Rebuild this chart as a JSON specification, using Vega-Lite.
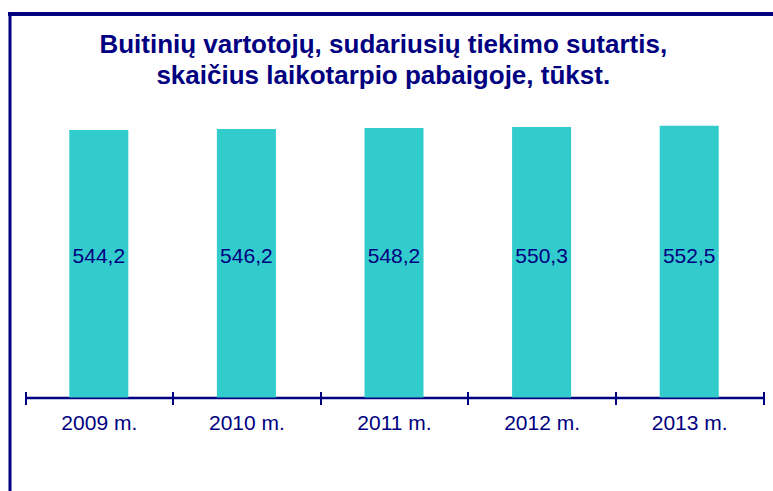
{
  "$schema": "https://vega.github.io/schema/vega-lite/v6.json",
  "width": 763.5,
  "height": 477,
  "autosize": {"type": "none"},
  "padding": {"left": 9.5, "top": 14, "right": 0, "bottom": 0},
  "background": "white",
  "title": {
    "text": ["Buitinių vartotojų, sudariusių tiekimo sutartis,", "skaičius laikotarpio pabaigoje, tūkst."],
    "font": "Liberation Sans",
    "fontSize": 26,
    "fontWeight": "bold",
    "color": "#000080",
    "anchor": "middle",
    "frame": "group",
    "lineHeight": 31,
    "offset": 0,
    "dy": 77,
    "dx": -8
  },
  "config": {"view": {"stroke": null}},
  "data": {
    "values": [
      {"year": "2009 m.", "value": 544.2, "label": "544,2"},
      {"year": "2010 m.", "value": 546.2, "label": "546,2"},
      {"year": "2011 m.", "value": 548.2, "label": "548,2"},
      {"year": "2012 m.", "value": 550.3, "label": "550,3"},
      {"year": "2013 m.", "value": 552.5, "label": "552,5"}
    ]
  },
  "layer": [
    {
      "mark": {"type": "bar", "color": "#33CCCC", "width": {"band": 0.4}},
      "encoding": {
        "x": {
          "field": "year", "type": "nominal", "sort": null,
          "scale": {"range": [15.5, 753.5], "paddingInner": 0, "paddingOuter": 0},
          "axis": {
            "orient": "bottom", "offset": -93.5, "tickBand": "extent",
            "tickSize": 7, "tickWidth": 2, "tickColor": "#000080",
            "domainColor": "#000080", "domainWidth": 2.5,
            "labelFont": "Liberation Sans", "labelFontSize": 21, "labelColor": "#000080",
            "labelPadding": 7.5, "labelAngle": 0, "title": null, "grid": false
          }
        },
        "y": {
          "field": "value", "type": "quantitative",
          "scale": {"domain": [-190, 780], "zero": false, "nice": false},
          "axis": {"orient": "left", "domain": true, "domainColor": "#000080", "domainWidth": 3, "ticks": false, "labels": false, "grid": false, "title": null}
        },
        "y2": {"datum": 0}
      }
    },
    {
      "mark": {"type": "rule", "color": "#000080", "strokeWidth": 3, "strokeCap": "square"},
      "encoding": {
        "y": {
          "datum": 780, "type": "quantitative",
          "axis": {"orient": "left", "domain": true, "domainColor": "#000080", "domainWidth": 3, "ticks": false, "labels": false, "grid": false, "title": null}
        }
      }
    },
    {
      "mark": {"type": "text", "font": "Liberation Sans", "fontSize": 21, "color": "#000080", "baseline": "middle", "align": "center"},
      "encoding": {
        "x": {
          "field": "year", "type": "nominal", "sort": null,
          "scale": {"range": [15.5, 753.5], "paddingInner": 0, "paddingOuter": 0},
          "axis": {
            "orient": "top", "offset": -383.6, "tickBand": "extent",
            "tickSize": 6, "tickWidth": 2, "tickColor": "#000080",
            "domain": false, "labels": false, "title": null, "grid": false
          }
        },
        "y": {
          "datum": 286, "type": "quantitative",
          "axis": {"orient": "left", "domain": true, "domainColor": "#000080", "domainWidth": 3, "ticks": false, "labels": false, "grid": false, "title": null}
        },
        "text": {"field": "label"}
      }
    }
  ],
  "resolve": {"axis": {"x": "independent"}}
}
